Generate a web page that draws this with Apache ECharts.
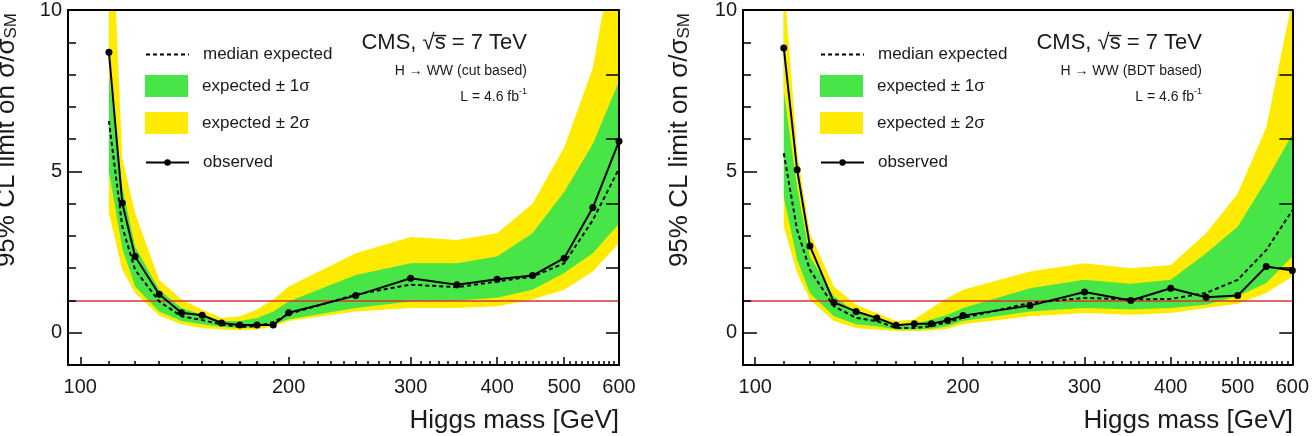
<!DOCTYPE html>
<html lang="en">
<head>
<meta charset="UTF-8">
<title>H to WW limits</title>
<style>
  html, body { margin: 0; padding: 0; background: #fff; }
  #chart { width: 1312px; height: 436px; }
</style>
</head>
<body>
<div id="chart"></div>
<script src="https://cdn.jsdelivr.net/npm/echarts@6/dist/echarts.min.js"></script>
<script>
// Higgs mass points [GeV]
var masses = [110, 115, 120, 130, 140, 150, 160, 170, 180, 190, 200, 250, 300, 350, 400, 450, 500, 550, 600];

// left panel: cut based
var cutObserved = [8.69, 4.02, 2.36, 1.19, 0.62, 0.54, 0.30, 0.24, 0.24, 0.24, 0.62, 1.15, 1.69, 1.49, 1.66, 1.77, 2.31, 3.88, 5.93];
var cutExpected = [6.56, 3.28, 1.95, 0.97, 0.51, 0.39, 0.26, 0.18, 0.20, 0.33, 0.58, 1.18, 1.49, 1.41, 1.59, 1.74, 2.15, 3.49, 5.08];
var cutUp1 = [8.0, 4.5, 2.67, 1.33, 0.77, 0.56, 0.36, 0.36, 0.46, 0.66, 0.97, 1.79, 2.15, 2.15, 2.36, 3.08, 4.36, 5.85, 7.79];
var cutLow1 = [5.0, 2.61, 1.43, 0.66, 0.36, 0.26, 0.18, 0.15, 0.18, 0.26, 0.42, 0.77, 0.97, 1.0, 1.08, 1.33, 1.85, 2.46, 3.38];
var cutUp2 = [15.0, 5.4, 3.7, 1.64, 1.03, 0.72, 0.46, 0.51, 0.72, 1.03, 1.43, 2.46, 2.97, 2.87, 3.08, 4.0, 5.74, 8.2, 12.8];
var cutLow2 = [3.7, 1.95, 1.23, 0.53, 0.26, 0.15, 0.10, 0.08, 0.10, 0.20, 0.36, 0.66, 0.77, 0.77, 0.82, 1.03, 1.33, 1.90, 2.77];

// right panel: BDT based
var bdtObserved = [8.82, 5.05, 2.69, 0.94, 0.66, 0.46, 0.23, 0.28, 0.28, 0.38, 0.53, 0.84, 1.26, 1.00, 1.38, 1.10, 1.15, 2.05, 1.93];
var bdtExpected = [5.56, 3.18, 1.95, 0.82, 0.46, 0.36, 0.15, 0.15, 0.20, 0.33, 0.46, 0.92, 1.08, 1.03, 1.05, 1.23, 1.64, 2.56, 3.79];
var bdtUp1 = [7.5, 4.51, 2.36, 1.13, 0.62, 0.46, 0.26, 0.26, 0.41, 0.56, 0.77, 1.38, 1.64, 1.52, 1.64, 2.46, 3.28, 4.72, 6.15];
var bdtLow1 = [4.2, 2.26, 1.23, 0.51, 0.26, 0.20, 0.10, 0.10, 0.12, 0.20, 0.36, 0.66, 0.77, 0.72, 0.77, 0.87, 1.13, 1.54, 2.36];
var bdtUp2 = [11.0, 5.6, 3.08, 1.43, 0.87, 0.61, 0.36, 0.41, 0.77, 1.08, 1.33, 1.90, 2.15, 2.00, 2.10, 3.08, 4.31, 6.36, 10.3];
var bdtLow2 = [3.28, 1.85, 1.02, 0.36, 0.15, 0.10, 0.05, 0.05, 0.07, 0.12, 0.26, 0.51, 0.61, 0.56, 0.61, 0.77, 0.90, 1.23, 1.74];

// axes
var xMin = 96, xMax = 600;
var xLabels = [100, 200, 300, 400, 500, 600];
var yMin = -1, yMax = 10;
var yLabels = [0, 5, 10];
var yMinorTicks = [1, 2, 3, 4, 6, 7, 8, 9];
var yRightTicks = [0, 2, 4, 6, 8, 10];
var smLine = 1;

// minor ticks every 10 GeV
var xMinorTicks = [];
for (var t = 110; t < 600; t += 10) {
  if (t % 100 !== 0) xMinorTicks.push(t);
}

var GREEN = '#48e548', YELLOW = '#ffeb00', RED = '#dd3333', INK = '#1a1a1a';
var FONT = '"Liberation Sans", Arial, Helvetica, sans-serif';

function pairs(vals) {
  return masses.map(function (m, k) { return [m, vals[k]]; });
}

var panels = [
  { left: 68, width: 551, channel: 'cut based', titleX: 7,
    obs: cutObserved, exp: cutExpected, up1: cutUp1, lo1: cutLow1, up2: cutUp2, lo2: cutLow2 },
  { left: 743, width: 550, channel: 'BDT based', titleX: 680,
    obs: bdtObserved, exp: bdtExpected, up1: bdtUp1, lo1: bdtLow1, up2: bdtUp2, lo2: bdtLow2 }
];

var option = {
  animation: false,
  textStyle: { fontFamily: FONT },
  grid: [], xAxis: [], yAxis: [], series: [], legend: [], graphic: []
};

panels.forEach(function (p, g) {
  option.grid.push({ left: p.left, top: 8, width: p.width, height: 357 });

  // x axes: minor ticks + labels, major ticks, top frame
  option.xAxis.push({
    type: 'log', logBase: 10, gridIndex: g, min: xMin, max: xMax, position: 'bottom', z: 10,
    axisLine: { show: true, onZero: false, lineStyle: { color: '#000', width: 2 } },
    axisTick: { show: true, inside: true, length: 4, customValues: xMinorTicks, lineStyle: { color: '#000', width: 1.5 } },
    axisLabel: { show: true, customValues: xLabels, fontSize: 20, margin: 12, color: INK },
    splitLine: { show: false }
  });
  option.xAxis.push({
    type: 'log', logBase: 10, gridIndex: g, min: xMin, max: xMax, position: 'bottom', z: 10,
    axisLine: { show: false, onZero: false },
    axisTick: { show: true, inside: true, length: 8, customValues: xLabels, lineStyle: { color: '#000', width: 1.5 } },
    axisLabel: { show: false },
    splitLine: { show: false }
  });
  option.xAxis.push({
    type: 'log', logBase: 10, gridIndex: g, min: xMin, max: xMax, position: 'top', z: 10,
    axisLine: { show: true, onZero: false, lineStyle: { color: '#000', width: 2 } },
    axisTick: { show: false }, axisLabel: { show: false }, splitLine: { show: false }
  });

  // y axes: major ticks + labels, minor ticks, right frame
  option.yAxis.push({
    type: 'value', gridIndex: g, min: yMin, max: yMax, position: 'left', z: 10,
    axisLine: { show: true, onZero: false, lineStyle: { color: '#000', width: 2 } },
    axisTick: { show: true, inside: true, length: 14, customValues: yLabels, lineStyle: { color: '#000', width: 1.5 } },
    axisLabel: { show: true, customValues: yLabels, fontSize: 20, margin: 6, color: INK },
    splitLine: { show: false }
  });
  option.yAxis.push({
    type: 'value', gridIndex: g, min: yMin, max: yMax, position: 'left', z: 10,
    axisLine: { show: false, onZero: false },
    axisTick: { show: true, inside: true, length: 8, customValues: yMinorTicks, lineStyle: { color: '#000', width: 1.5 } },
    axisLabel: { show: false }, splitLine: { show: false }
  });
  option.yAxis.push({
    type: 'value', gridIndex: g, min: yMin, max: yMax, position: 'right', z: 10,
    axisLine: { show: true, onZero: false, lineStyle: { color: '#000', width: 2 } },
    axisTick: { show: true, inside: true, length: 13, customValues: yRightTicks, lineStyle: { color: '#000', width: 1.5 } },
    axisLabel: { show: false }, splitLine: { show: false }
  });

  var xi = 3 * g, yi = 3 * g;
  // each layer fills from its edge up to the top of the plot; later layers cover earlier ones
  function band(name, vals, fill, z) {
    return {
      name: name, type: 'line', xAxisIndex: xi, yAxisIndex: yi, data: pairs(vals), z: z,
      symbol: 'none', color: fill,
      lineStyle: { width: 0, opacity: 0 },
      areaStyle: { color: fill, opacity: 1, origin: 'end' },
      emphasis: { disabled: true }, silent: true
    };
  }
  option.series.push(band('expected ± 2σ', p.lo2, YELLOW, 1));
  option.series.push(band('expected ± 1σ', p.lo1, GREEN, 2));
  option.series.push(band('upper 2σ', p.up1, YELLOW, 3));
  option.series.push(band('above bands', p.up2, '#ffffff', 3));

  option.series.push({
    name: 'median expected', type: 'line', xAxisIndex: xi, yAxisIndex: yi, data: pairs(p.exp), z: 6,
    symbol: 'none', color: '#000',
    lineStyle: { color: '#000', width: 2, type: [4, 3] },
    emphasis: { disabled: true }, silent: true,
    markLine: {
      silent: true, symbol: 'none', label: { show: false },
      lineStyle: { color: RED, width: 1.5, type: 'solid' },
      data: [{ yAxis: smLine }]
    }
  });
  option.series.push({
    name: 'observed', type: 'line', xAxisIndex: xi, yAxisIndex: yi, data: pairs(p.obs), z: 7,
    symbol: 'circle', symbolSize: 7, color: '#000',
    itemStyle: { color: '#000' },
    lineStyle: { color: '#000', width: 2 },
    emphasis: { disabled: true }, silent: true
  });

  // legends
  var lx = p.left + 77;
  var legendText = { fontSize: 17, color: INK, padding: [0, 0, 0, 9] };
  option.legend.push({ left: lx, top: 46, padding: 0, selectedMode: false, orient: 'vertical', z: 8,
    itemWidth: 43, itemHeight: 8, textStyle: legendText,
    data: [{ name: 'median expected', itemStyle: { opacity: 0 } }] });
  option.legend.push({ left: lx, top: 75, padding: 0, selectedMode: false, orient: 'vertical', z: 8,
    itemWidth: 43, itemHeight: 22, itemGap: 15, textStyle: legendText,
    data: [
      { name: 'expected ± 1σ', icon: 'rect', itemStyle: { color: GREEN } },
      { name: 'expected ± 2σ', icon: 'rect', itemStyle: { color: YELLOW } }
    ] });
  option.legend.push({ left: lx, top: 154, padding: 0, selectedMode: false, orient: 'vertical', z: 8,
    itemWidth: 43, itemHeight: 8, textStyle: legendText, data: ['observed'] });

  // texts
  var tx = p.left + 459;
  option.graphic.push({
    type: 'text', x: tx, y: 43, z: 20,
    style: { text: 'CMS, \u221As\u0305 = 7 TeV', fontSize: 22, fontFamily: FONT, fill: INK, align: 'right', verticalAlign: 'middle' }
  });
  option.graphic.push({
    type: 'text', x: tx, y: 71, z: 20,
    style: { text: 'H \u2192 WW (' + p.channel + ')', fontSize: 14, fontFamily: FONT, fill: INK, align: 'right', verticalAlign: 'middle' }
  });
  option.graphic.push({
    type: 'text', x: tx, y: 97, z: 20,
    style: {
      text: '{n|L = 4.6 fb}{s|-1}', fontFamily: FONT, fill: INK, align: 'right', verticalAlign: 'middle',
      rich: {
        n: { fontSize: 14, lineHeight: 20, fill: INK, fontFamily: FONT },
        s: { fontSize: 9, lineHeight: 8, verticalAlign: 'top', fill: INK, fontFamily: FONT }
      }
    }
  });
  option.graphic.push({
    type: 'text', x: p.left + p.width, y: 421, z: 20,
    style: { text: 'Higgs mass [GeV]', fontSize: 26, fontFamily: FONT, fill: INK, align: 'right', verticalAlign: 'middle' }
  });
  option.graphic.push({
    type: 'text', x: p.titleX, y: 13, z: 20, rotation: Math.PI / 2,
    style: {
      text: '{a|95% CL limit on \u03C3/\u03C3}{b|SM}', fontFamily: FONT, fill: INK, align: 'right', verticalAlign: 'middle',
      rich: {
        a: { fontSize: 26, fill: INK, fontFamily: FONT },
        b: { fontSize: 17, lineHeight: 12, verticalAlign: 'bottom', fill: INK, fontFamily: FONT }
      }
    }
  });
});

var chart = echarts.init(document.getElementById('chart'));
chart.setOption(option);
</script>
</body>
</html>
